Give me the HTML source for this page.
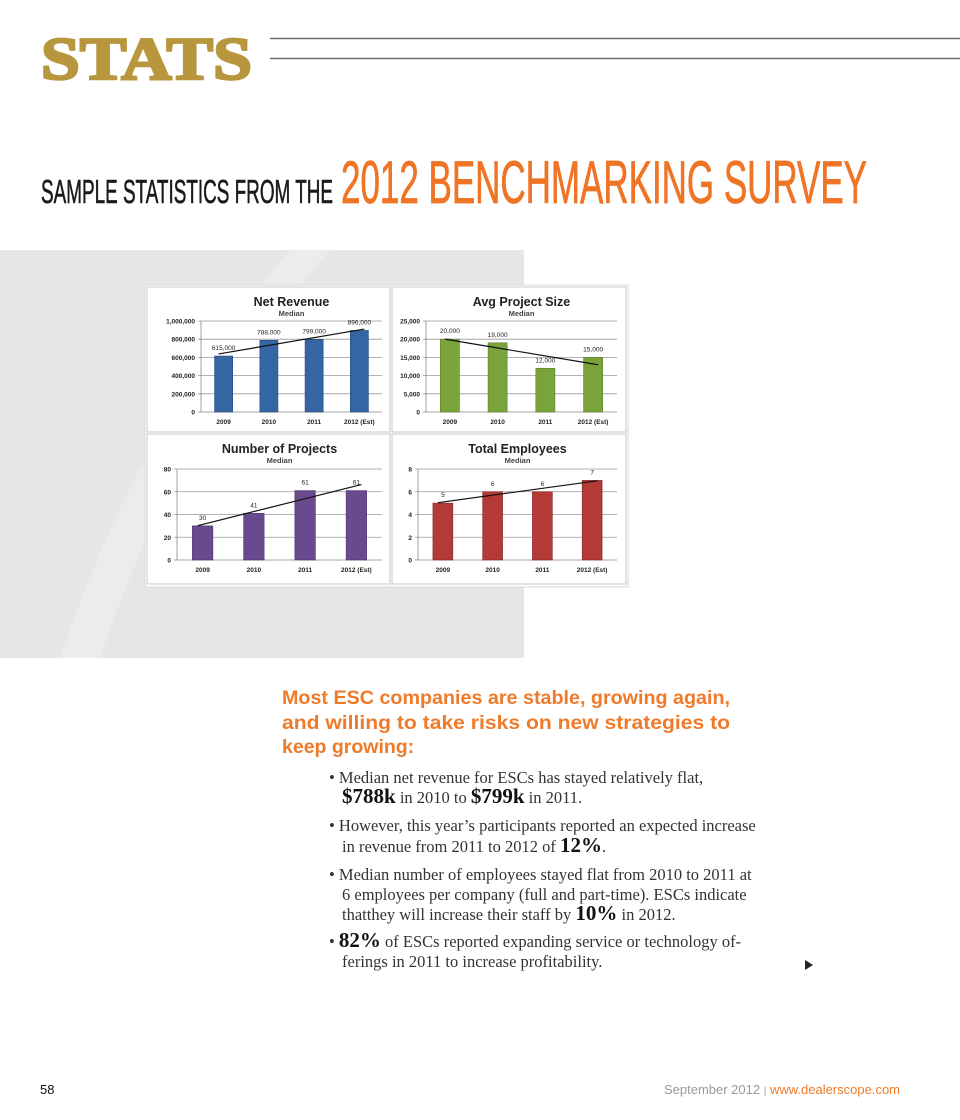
<!DOCTYPE html>
<html><head><meta charset="utf-8">
<style>
html,body{margin:0;padding:0;background:#fff;}
#page{position:relative;width:960px;height:1120px;overflow:hidden;background:#fff;font-family:"Liberation Sans",sans-serif;}
svg{position:absolute;left:0;top:0;}
</style></head>
<body>
<div id="page">
<svg id="main" width="960" height="1120" viewBox="0 0 960 1120">
  <rect x="0" y="250" width="524" height="408" fill="#e6e6e6"/>
  <path d="M60 658 Q140 420 290 250 L330 250 Q180 420 100 658 Z" fill="#ececec"/>
  <text x="41" y="79" font-family="Liberation Serif,serif" font-weight="bold" font-size="60" fill="#b8963e" stroke="#b8963e" stroke-width="2.5" textLength="211" lengthAdjust="spacingAndGlyphs">STATS</text>
  <line x1="270" y1="38.5" x2="960" y2="38.5" stroke="#6d6d6d" stroke-width="1.6"/>
  <line x1="270" y1="58.5" x2="960" y2="58.5" stroke="#6d6d6d" stroke-width="1.6"/>
  <text x="41" y="203" font-size="33" fill="#1a1a1a" stroke="#1a1a1a" stroke-width="0.6" textLength="292" lengthAdjust="spacingAndGlyphs">SAMPLE STATISTICS FROM THE</text>
  <text x="341" y="203" font-size="60" fill="#ef7425" stroke="#ef7425" stroke-width="0.8" textLength="526" lengthAdjust="spacingAndGlyphs">2012 BENCHMARKING SURVEY</text>
  <rect x="145" y="285" width="483" height="302" fill="#fff" stroke="#d8d8d8"/>
  <g id="charts"></g>
  <g font-family="Liberation Sans,DejaVu Sans,sans-serif" font-weight="bold" font-size="19.5" fill="#ef7a2a">
    <text x="282" y="704" textLength="448" lengthAdjust="spacingAndGlyphs">Most ESC companies are stable, growing again,</text>
    <text x="282" y="729" textLength="448" lengthAdjust="spacingAndGlyphs">and willing to take risks on new strategies to</text>
    <text x="282" y="753">keep growing:</text>
  </g>
  <g font-family="Liberation Serif,serif" font-size="16.5" fill="#333">
    <text x="329" y="783">• Median net revenue for ESCs has stayed relatively flat,</text>
    <text x="342" y="803"><tspan font-weight="bold" font-size="21" fill="#111">$788k</tspan> in 2010 to <tspan font-weight="bold" font-size="21" fill="#111">$799k</tspan> in 2011.</text>
    <text x="329" y="831">• However, this year’s participants reported an expected increase</text>
    <text x="342" y="852">in revenue from 2011 to 2012 of <tspan font-weight="bold" font-size="21" fill="#111">12%</tspan>.</text>
    <text x="329" y="880">• Median number of employees stayed flat from 2010 to 2011 at</text>
    <text x="342" y="900">6 employees per company (full and part-time). ESCs indicate</text>
    <text x="342" y="920">thatthey will increase their staff by <tspan font-weight="bold" font-size="21" fill="#111">10%</tspan> in 2012.</text>
    <text x="329" y="947">• <tspan font-weight="bold" font-size="21" fill="#111">82%</tspan> of ESCs reported expanding service or technology of-</text>
    <text x="342" y="967">ferings in 2011 to increase profitability.</text>
  </g>
  <polygon points="805,960 805,970 813,965" fill="#222"/>
  <text x="40" y="1094" font-size="13" fill="#111">58</text>
  <text x="900" y="1094" text-anchor="end" font-size="13"><tspan fill="#999">September 2012 </tspan><tspan fill="#999" font-size="10">|</tspan><tspan fill="#ef7a2a"> www.dealerscope.com</tspan></text>
</svg>
</div>
<script>
const categories = ["2009","2010","2011","2012 (Est)"];
const revenueValues = [615000,788000,799000,896000];
const revenueLabels = ["615,000","788,000","799,000","896,000"];
const revenueTicks = [0,200000,400000,600000,800000,1000000];
const revenueTickLabels = ["0","200,000","400,000","600,000","800,000","1,000,000"];
const projSizeValues = [20000,19000,12000,15000];
const projSizeLabels = ["20,000","19,000","12,000","15,000"];
const projSizeTicks = [0,5000,10000,15000,20000,25000];
const projSizeTickLabels = ["0","5,000","10,000","15,000","20,000","25,000"];
const projectsValues = [30,41,61,61];
const projectsLabels = ["30","41","61","61"];
const projectsTicks = [0,20,40,60,80];
const employeesValues = [5,6,6,7];
const employeesLabels = ["5","6","6","7"];
const employeesTicks = [0,2,4,6,8];

const NS="http://www.w3.org/2000/svg";
function mk(tag,attrs,parent,txt){const e=document.createElementNS(NS,tag);for(const k in attrs)e.setAttribute(k,attrs[k]);if(txt!==undefined)e.textContent=txt;parent.appendChild(e);return e;}

const panels=[
 {name:"net-revenue",title:"Net Revenue",box:[147,287,243,145],plot:[201,321,382,412],vals:revenueValues,labels:revenueLabels,ticks:revenueTicks,tickLabels:revenueTickLabels,color:"#3566a3",dark:"#24497a"},
 {name:"avg-project-size",title:"Avg Project Size",box:[392,287,234,145],plot:[426,321,617,412],vals:projSizeValues,labels:projSizeLabels,ticks:projSizeTicks,tickLabels:projSizeTickLabels,color:"#7aa33c",dark:"#5a7d28"},
 {name:"number-of-projects",title:"Number of Projects",box:[147,434,243,150],plot:[177,469,382,560],vals:projectsValues,labels:projectsLabels,ticks:projectsTicks,tickLabels:projectsTicks.map(String),color:"#6a4a8e",dark:"#4d3370"},
 {name:"total-employees",title:"Total Employees",box:[392,434,234,150],plot:[418,469,617,560],vals:employeesValues,labels:employeesLabels,ticks:employeesTicks,tickLabels:employeesTicks.map(String),color:"#b33a36",dark:"#872623"}
];
const root=document.getElementById("charts");
panels.forEach(p=>{
  const g=mk("g",{},root);
  
  
  const [bx,by,bw,bh]=p.box,[x0,y0,x1,y1]=p.plot;
  mk("rect",{x:bx,y:by,width:bw,height:bh,fill:"#fff",stroke:"#c8c8c8"},g);
  const t=mk("text",{x:(x0+x1)/2,y:by+19,"text-anchor":"middle","font-size":12.5,"font-weight":"bold",fill:"#222"},g,p.title);
  
  
  mk("text",{x:(x0+x1)/2,y:by+29,"text-anchor":"middle","font-size":7.5,"font-weight":"bold",fill:"#444"},g,"Median");
  const max=p.ticks[p.ticks.length-1];
  const ys=v=>y1-(v/max)*(y1-y0);
  const band=(x1-x0)/categories.length;
  const xc=i=>x0+band*(i+0.5);
  p.ticks.forEach((tv,i)=>{
    const y=ys(tv);
    mk("line",{x1:x0-3,y1:y,x2:x1,y2:y,stroke:i===0?"#888":"#999","stroke-width":0.8},g);
    const tl=mk("text",{x:x0-6,y:y+2.5,"text-anchor":"end","font-size":6.5,"font-weight":"bold",fill:"#222"},g,p.tickLabels[i]);
    
    
  });
  mk("line",{x1:x0,y1:y0,x2:x0,y2:y1,stroke:"#888","stroke-width":0.8},g);
  const bwid=band*0.4;
  p.vals.forEach((v,i)=>{
    const r=mk("rect",{x:xc(i)-bwid/2,y:ys(v),width:bwid,height:y1-ys(v),fill:p.color,stroke:p.dark,"stroke-width":0.6},g);
    
    
    mk("text",{x:xc(i),y:y1+12,"text-anchor":"middle","font-size":6.5,"font-weight":"bold",fill:"#222"},g,categories[i]);
    const vl=mk("text",{x:xc(i),y:ys(v)-6,"text-anchor":"middle","font-size":6.5,fill:"#222"},g,p.labels[i]);
    
    
  });
  const n=p.vals.length,mx=(n-1)/2,my=p.vals.reduce((a,b)=>a+b,0)/n;
  let sxy=0,sxx=0;p.vals.forEach((v,i)=>{sxy+=(i-mx)*(v-my);sxx+=(i-mx)*(i-mx);});
  const s=sxy/sxx,f=i=>my+s*(i-mx);
  const tr=mk("line",{x1:xc(0)-5,y1:ys(f(-0.1)),x2:xc(n-1)+5,y2:ys(f(n-0.9)),stroke:"#111","stroke-width":1.2},g);
  
  
});
</script>
</body></html>
